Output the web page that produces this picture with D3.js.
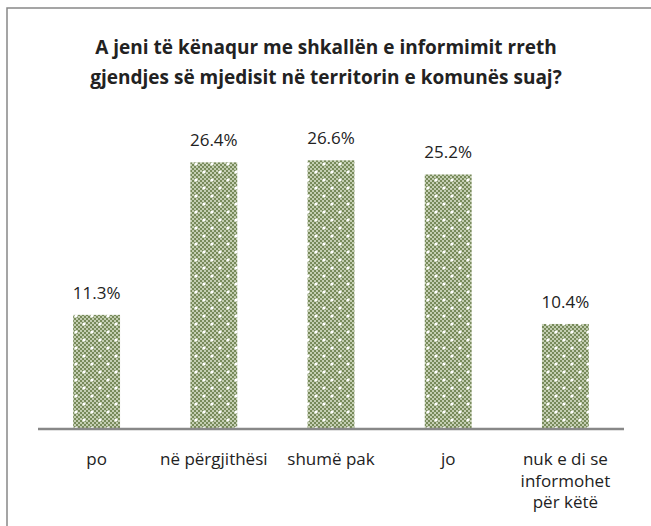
<!DOCTYPE html>
<html>
<head>
<meta charset="utf-8">
<script src="https://cdn.jsdelivr.net/npm/d3@7"></script>
<style>
  body { margin: 0; background: #fff; }
  text { font-family: "Open Sans", Lato, sans-serif; }
</style>
</head>
<body>
<div id="plot"></div>
<script>
// data
const categories = ["po", "në përgjithësi", "shumë pak", "jo", "nuk e di se informohet për këtë"];
const values = [11.3, 26.4, 26.6, 25.2, 10.4];
const labelLines = [["po"], ["në përgjithësi"], ["shumë pak"], ["jo"], ["nuk e di se", "informohet", "për këtë"]];
const titleLines = ["A jeni të kënaqur me shkallën e informimit rreth",
                    "gjendjes së mjedisit në territorin e komunës suaj?"];

const w = 651, h = 526;

const svg = d3.select("div#plot")
  .append("svg")
  .attr("width", w)
  .attr("height", h);

// bar fill pattern (dotted green)
const defs = svg.append("defs");
const pat = defs.append("pattern")
  .attr("id", "dots")
  .attr("patternUnits", "userSpaceOnUse")
  .attr("width", 16)
  .attr("height", 16);
pat.append("rect").attr("width", 16).attr("height", 16).attr("fill", "#c4ceb2");
for (let i = 0; i < 8; i++) {
  for (let j = 0; j < 8; j++) {
    if ((i + j) % 2 == 0) {
      pat.append("rect").attr("x", i * 2).attr("y", j * 2)
        .attr("width", 2).attr("height", 2).attr("fill", "#778a5a");
    }
  }
}
[[4, 4], [12, 12]].forEach(p => {
  pat.append("circle").attr("cx", p[0]).attr("cy", p[1]).attr("r", 1.6).attr("fill", "#fff");
});

// frame
svg.append("rect")
  .attr("x", 7).attr("y", 8)
  .attr("width", 660).attr("height", 540)
  .attr("fill", "none")
  .attr("stroke", "#888")
  .attr("stroke-width", 1.5);

// title
svg.append("text")
  .attr("text-anchor", "middle")
  .attr("font-size", 19)
  .attr("font-weight", "bold")
  .attr("fill", "#222")
  .selectAll("tspan")
  .data(titleLines)
  .enter()
  .append("tspan")
  .attr("x", 326)
  .attr("y", (d, i) => 54 + i * 30)
  .text(d => d);

const xScale = d3.scaleBand()
  .domain(categories)
  .range([38, 624])
  .paddingInner(0.6)
  .paddingOuter(0.3);

const yScale = d3.scaleLinear()
  .domain([0, 30])
  .range([429, 126]);

// bars
svg.append("g")
  .attr("id", "bars")
  .selectAll("rect")
  .data(values)
  .enter()
  .append("rect")
  .attr("x", (d, i) => xScale(categories[i]))
  .attr("y", d => yScale(d))
  .attr("width", xScale.bandwidth())
  .attr("height", d => yScale(0) - yScale(d))
  .attr("fill", "url(#dots)");

// value labels
svg.append("g")
  .attr("id", "values")
  .selectAll("text")
  .data(values)
  .enter()
  .append("text")
  .attr("x", (d, i) => xScale(categories[i]) + xScale.bandwidth() / 2)
  .attr("y", d => yScale(d) - 16)
  .attr("text-anchor", "middle")
  .attr("font-size", 17)
  .attr("fill", "#222")
  .text(d => d.toFixed(1) + "%");

// x axis line
svg.append("line")
  .attr("x1", 38).attr("x2", 624)
  .attr("y1", yScale(0)).attr("y2", yScale(0))
  .attr("stroke", "#888")
  .attr("stroke-width", 2.5);

// category labels
svg.append("g")
  .attr("id", "xlabels")
  .selectAll("text")
  .data(labelLines)
  .enter()
  .append("text")
  .attr("text-anchor", "middle")
  .attr("font-size", 17)
  .attr("fill", "#222")
  .each(function(lines, i) {
    d3.select(this).selectAll("tspan")
      .data(lines)
      .enter()
      .append("tspan")
      .attr("x", xScale(categories[i]) + xScale.bandwidth() / 2)
      .attr("y", (d, k) => 465 + k * 21.5)
      .text(d => d);
  });
</script>
</body>
</html>
